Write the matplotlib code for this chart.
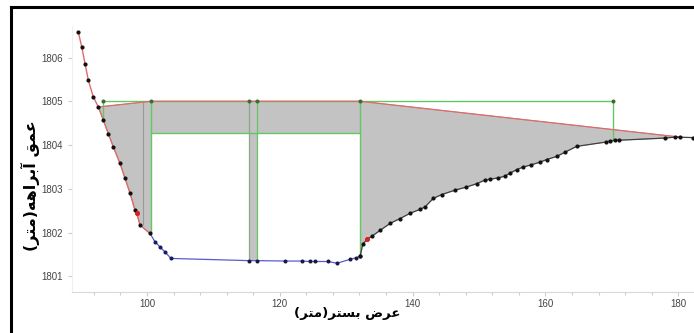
import numpy as np
import matplotlib.pyplot as plt
from matplotlib.ticker import MultipleLocator
from matplotlib.lines import Line2D

# ground profile (station, elevation)
left_x = [89.65, 90.17, 90.66, 91.16, 91.91, 92.67, 93.42, 94.17, 94.92, 95.93,
          96.69, 97.44, 98.19, 98.45, 98.95, 100.45]
left_y = [1806.58, 1806.24, 1805.86, 1805.48, 1805.10, 1804.87, 1804.57, 1804.26,
          1803.96, 1803.58, 1803.24, 1802.90, 1802.51, 1802.44, 1802.17, 1801.98]

bed_x = [100.45, 101.2, 101.96, 102.7, 103.6, 115.3, 116.5, 120.8, 123.3, 124.5,
         125.3, 127.3, 128.6, 130.6, 131.4, 132.1]
bed_y = [1801.98, 1801.79, 1801.67, 1801.56, 1801.41, 1801.36, 1801.36, 1801.35,
         1801.35, 1801.34, 1801.34, 1801.34, 1801.30, 1801.39, 1801.42, 1801.46]

right_x = [132.1, 132.5, 133.2, 133.9, 135.1, 136.6, 138.1, 139.6, 141.1, 141.9,
           143.1, 144.4, 146.4, 148.1, 149.7, 150.9, 151.7, 152.9, 153.9, 154.7,
           155.7, 156.7, 157.9, 159.2, 160.2, 161.7, 163.0, 164.7, 169.2, 169.7,
           170.5, 171.1, 178.0, 179.5, 180.3, 182.3]
right_y = [1801.46, 1801.74, 1801.85, 1801.92, 1802.05, 1802.21, 1802.32, 1802.44,
           1802.53, 1802.59, 1802.78, 1802.87, 1802.97, 1803.04, 1803.12, 1803.20,
           1803.22, 1803.25, 1803.29, 1803.36, 1803.44, 1803.50, 1803.55, 1803.61,
           1803.67, 1803.74, 1803.84, 1803.97, 1804.07, 1804.09, 1804.11, 1804.11,
           1804.16, 1804.18, 1804.18, 1804.17]

# water surface
ws_x = [92.67, 100.6, 132.1, 180.4]
ws_y = [1804.87, 1805.0, 1805.0, 1804.18]

# bridge geometry
deck_top = 1805.0
low_chord = 1804.27
abut_left = 100.6
abut_right = 132.1
pier_x = [115.3, 116.5]
ineff_x = [93.42, 170.2]
ineff_ground = [1804.57, 1804.11]
gray_line_x = 99.44

# highlighted points
red_pts_x = [98.45, 133.2]
red_pts_y = [1802.44, 1801.85]

xticks = [100, 120, 140, 160, 180]
yticks = [1801, 1802, 1803, 1804, 1805, 1806]

# Arabic labels, pre-shaped and in visual order (matplotlib has no bidi)
xlabel = "(\ufeae\ufe98\ufee3)\ufeae\ufe98\ufeb4\ufe91 \ufebd\ufeae\ufecb"
ylabel = "(\ufeae\ufe98\ufee3)\ufeea\ufeeb\ufe8d\ufeae\ufe91\ufe81 \ufed6\ufee4\ufecb"

green = "#62c862"
red = "#e06a6a"
blue = "#5a5ad0"
fill_gray = "#c3c3c3"

fig = plt.figure(figsize=(6.94, 3.33), dpi=100)
ax = fig.add_axes([72 / 694, 41.3 / 333, 622.8 / 694, 265.7 / 333])
ax.set_xlim(88.7, 182.5)
ax.set_ylim(1800.65, 1806.72)

gx = np.array(left_x + bed_x[1:] + right_x[1:])
gy = np.array(left_y + bed_y[1:] + right_y[1:])

# flow area polygon: water surface then ground back
m = (gx >= ws_x[0]) & (gx <= ws_x[-1])
poly_x = list(ws_x) + list(gx[m][::-1])
poly_y = list(ws_y) + list(gy[m][::-1])
ax.fill(poly_x, poly_y, color=fill_gray, ec="#9a9a9a", lw=0.6, zorder=1)

# bridge opening (white) and pier
ax.fill_between([abut_left, abut_right], 1800.7, low_chord, color="white", lw=0, zorder=2)
ax.fill_between(pier_x, bed_y[5], low_chord, color=fill_gray, lw=0, zorder=3)

ax.vlines(gray_line_x, 1802.17, deck_top, color="#9a9a9a", lw=0.8, zorder=3)

# green bridge lines
ax.plot([ineff_x[0], ineff_x[1]], [deck_top, deck_top], color=green, lw=1, zorder=4)
ax.plot([abut_left, abut_right], [low_chord, low_chord], color=green, lw=1, zorder=4)
ax.vlines(abut_left, bed_y[0], deck_top, color=green, lw=1, zorder=4)
ax.vlines(abut_right, bed_y[-1], deck_top, color=green, lw=1, zorder=4)
ax.vlines(pier_x[0], bed_y[5], deck_top, color="#8aa88a", lw=0.9, zorder=4)
ax.vlines(pier_x[1], bed_y[6], deck_top, color=green, lw=0.9, zorder=4)
ax.vlines(ineff_x[0], ineff_ground[0], deck_top, color=green, lw=1, zorder=4)
ax.vlines(ineff_x[1], ineff_ground[1], deck_top, color=green, lw=1, zorder=4)
top_pts = [ineff_x[0], abut_left, pier_x[0], pier_x[1], abut_right, ineff_x[1]]
ax.plot(top_pts, [deck_top] * len(top_pts), ls="none", marker="o", ms=1.9,
        color="#3d6b3d", zorder=6)

# water surface
ax.plot(ws_x, ws_y, color=red, lw=0.9, zorder=5)

# ground line
ax.plot(left_x, left_y, color=red, lw=1.0, zorder=5)
ax.plot(bed_x, bed_y, color=blue, lw=0.9, zorder=5)
ax.plot(right_x, right_y, color="#404040", lw=0.9, zorder=5)
ax.plot(left_x, left_y, ls="none", marker="o", ms=2.0, color="#111111", zorder=6)
ax.plot(bed_x[1:5], bed_y[1:5], ls="none", marker="o", ms=1.9, color="#1a1a60", zorder=6)
ax.plot(bed_x[5:], bed_y[5:], ls="none", marker="o", ms=1.9, color="#1a1a40", zorder=6)
ax.plot(right_x, right_y, ls="none", marker="o", ms=2.0, color="#111111", zorder=6)
ax.plot(red_pts_x, red_pts_y, ls="none", marker="o", ms=2.6, color="#e02020", zorder=7)

# axes styling
for s in ["top", "right"]:
    ax.spines[s].set_visible(False)
ax.spines["left"].set_color("#f0f0f0")
ax.spines["bottom"].set_color("#d8d8d8")
ax.set_xticks(xticks)
ax.set_yticks(yticks)
ax.xaxis.set_minor_locator(MultipleLocator(4))
ax.tick_params(which="both", colors="#cccccc", labelcolor="#444444",
               labelsize=7, length=3, width=0.8)
ax.tick_params(axis="x", pad=2)
ax.tick_params(which="minor", length=2)
for lab in ax.get_xticklabels() + ax.get_yticklabels():
    lab.set_family("Liberation Sans")

ax.set_xlabel(xlabel, fontsize=9.5, fontweight="bold", family="DejaVu Sans",
              labelpad=0)
ax.xaxis.set_label_coords((347 - 72) / 622.8, -(313 - 291.7) / 265.7)
ax.set_ylabel(ylabel, fontsize=11.5, fontweight="bold", family="DejaVu Sans")
ax.yaxis.set_label_coords(-(72 - 30) / 622.8, (291.7 - 186) / 265.7)
ax.xaxis.label.set_va("center")
ax.yaxis.label.set_va("center")

# frame of the original screenshot
fig.add_artist(Line2D([11 / 694, 1.0], [1 - 7 / 333, 1 - 7 / 333],
                      color="black", lw=2.2, transform=fig.transFigure))
fig.add_artist(Line2D([11 / 694, 11 / 694], [0, 1 - 7 / 333],
                      color="black", lw=2.2, transform=fig.transFigure))

fig.savefig("out.png", dpi=100)
